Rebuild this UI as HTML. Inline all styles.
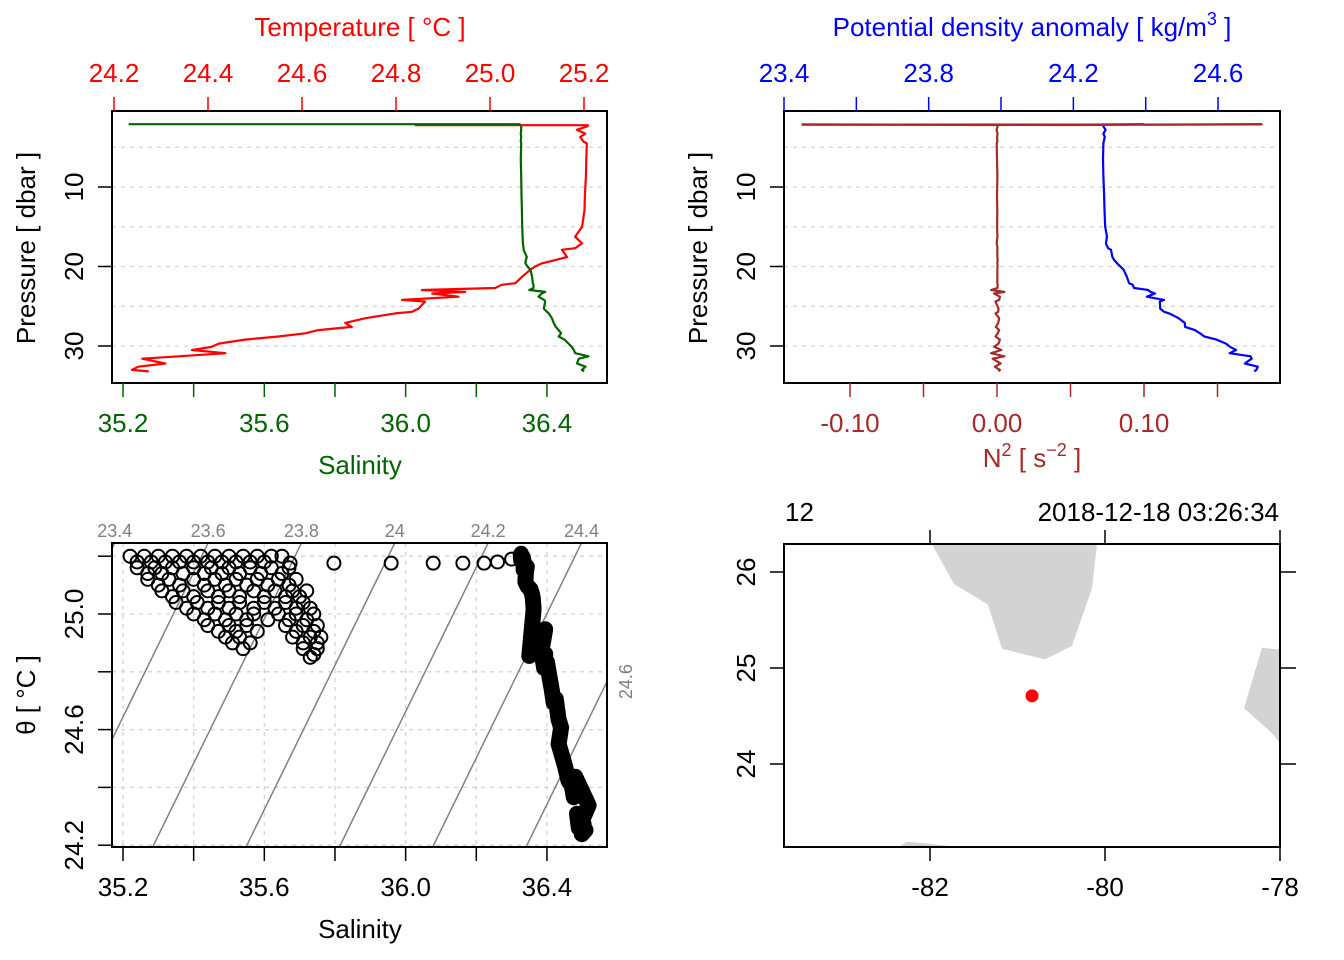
<!DOCTYPE html>
<html><head><meta charset="utf-8">
<style>
html,body{margin:0;padding:0;background:#fff;}
svg{display:block;font-family:"Liberation Sans",Arial,sans-serif;}
</style></head>
<body>
<svg id="chart" width="1344" height="960" viewBox="0 0 1344 960" xmlns="http://www.w3.org/2000/svg">
<defs>
<clipPath id="c1"><rect x="112" y="111" width="495" height="272"/></clipPath>
<clipPath id="c2"><rect x="784" y="111" width="496" height="272"/></clipPath>
<clipPath id="c3"><rect x="112" y="543" width="495" height="304"/></clipPath>
<clipPath id="c4"><rect x="784" y="544" width="496" height="303"/></clipPath>
</defs>
</svg>
<script>
// ---- profile data (levels) ----
const pressure = [2.3,2.8,3.3,3.7,4.3,4.5,6.5,8.7,11,12.9,15.0,16.25,17.1,17.7,17.9,18.8,19.2,19.6,20.0,20.4,21.3,22.1,22.3,22.7,22.96,23.2,23.4,23.8,24.2,24.4,25.3,25.7,25.9,26.5,27.1,27.6,28.0,28.4,28.8,29.2,29.7,30.1,30.5,30.9,31.3,31.6,32.2,32.6,33.0,33.2];
const temperature = [25.21,25.185,25.203,25.192,25.199,25.206,25.205,25.204,25.202,25.201,25.196,25.181,25.196,25.181,25.153,25.164,25.139,25.111,25.096,25.086,25.068,25.054,25.025,25.011,24.855,24.947,24.877,24.933,24.813,24.862,24.848,24.834,24.798,24.735,24.692,24.706,24.635,24.607,24.550,24.479,24.423,24.408,24.366,24.437,24.338,24.260,24.309,24.252,24.238,24.274];
const salinity = [36.327,36.327,36.326,36.327,36.326,36.327,36.326,36.327,36.328,36.329,36.330,36.331,36.332,36.334,36.334,36.343,36.340,36.339,36.345,36.353,36.358,36.360,36.362,36.362,36.350,36.395,36.385,36.376,36.392,36.395,36.391,36.400,36.405,36.414,36.419,36.425,36.433,36.440,36.433,36.450,36.461,36.470,36.476,36.480,36.518,36.490,36.485,36.509,36.499,36.505];
const sigmaTheta = [24.282,24.289,24.283,24.287,24.284,24.283,24.282,24.283,24.285,24.286,24.288,24.293,24.290,24.296,24.304,24.308,24.313,24.321,24.330,24.339,24.348,24.354,24.364,24.368,24.407,24.413,24.426,24.403,24.451,24.439,24.440,24.451,24.465,24.491,24.508,24.509,24.536,24.550,24.562,24.596,24.622,24.633,24.650,24.632,24.690,24.693,24.674,24.710,24.706,24.700];
const n2 = [0.0005,-0.0003,0.0004,0,0.0003,-0.0002,0,0.0003,0,0.0002,0.0001,0.0003,-0.0002,0.0004,0.0002,0.0003,0.0004,0.0002,0.0004,0.0002,0.0003,0.0002,0.0005,0.0003,-0.004,0.005,-0.002,0.002,0.0015,-0.001,0.001,0.0008,-0.001,0.0015,0.0008,-0.0008,0.0015,0.0005,-0.001,0.002,0.001,-0.002,0.003,-0.004,0.005,-0.003,0.0025,-0.0015,0.002,0.001];
// ---- surface soak (near-constant pressure) ----
const soakPressure = 2.15;
const soakSal = [35.22,35.26,35.30,35.34,35.38,35.42,35.46,35.50,35.54,35.58,35.62,35.65,35.24,35.29,35.34,35.40,35.45,35.50,35.56,35.62,35.67,35.27,35.33,35.40,35.46,35.52,35.58,35.64,35.69,35.31,35.37,35.44,35.50,35.57,35.63,35.68,35.72,35.35,35.41,35.47,35.53,35.60,35.66,35.71,35.40,35.46,35.52,35.57,35.64,35.69,35.74,35.44,35.50,35.55,35.66,35.71,35.75,35.49,35.53,35.68,35.73,35.76,35.54,35.71,35.75,35.73,35.673,35.797,35.959,36.078,36.162,36.222,36.26,36.30,
35.24,35.28,35.32,35.36,35.40,35.44,35.48,35.52,35.56,35.60,35.27,35.31,35.37,35.43,35.48,35.53,35.59,35.65,35.30,35.36,35.43,35.49,35.55,35.61,35.67,35.34,35.40,35.47,35.53,35.60,35.66,35.70,35.38,35.44,35.50,35.57,35.63,35.69,35.73,35.43,35.49,35.55,35.61,35.67,35.72,35.47,35.52,35.58,35.69,35.74,35.51,35.56,35.71,35.75,35.74];
const soakTemp = [25.20,25.20,25.20,25.20,25.20,25.20,25.20,25.20,25.20,25.20,25.20,25.20,25.16,25.16,25.16,25.16,25.16,25.16,25.16,25.16,25.16,25.12,25.12,25.12,25.12,25.12,25.12,25.12,25.12,25.08,25.08,25.08,25.08,25.08,25.08,25.08,25.08,25.04,25.04,25.04,25.04,25.04,25.04,25.04,25.00,25.00,25.00,25.00,25.00,25.00,25.00,24.96,24.96,24.96,24.96,24.96,24.96,24.92,24.92,24.92,24.92,24.92,24.88,24.88,24.88,24.85,25.176,25.176,25.176,25.176,25.176,25.176,25.18,25.19,
25.18,25.18,25.18,25.18,25.18,25.18,25.18,25.18,25.18,25.18,25.14,25.14,25.14,25.14,25.14,25.14,25.14,25.14,25.10,25.10,25.10,25.10,25.10,25.10,25.10,25.06,25.06,25.06,25.06,25.06,25.06,25.06,25.02,25.02,25.02,25.02,25.02,25.02,25.02,24.98,24.98,24.98,24.98,24.98,24.98,24.94,24.94,24.94,24.94,24.94,24.90,24.90,24.90,24.90,24.86];
const soakTempLine = [24.84,24.95,25.05,25.12,25.17,25.21];
const soakSalLine = [35.216,35.5,35.8,36.1,36.25,36.325];
const soakSigma = [23.45,23.70,23.95,24.10,24.20,24.28];
const soakN2 = [-0.133,0.05,0.18,-0.02,0.10,0.0];
// ---- axis ticks ----
const tempTicks = [24.2,24.4,24.6,24.8,25.0,25.2];
const salTicks = [35.2,35.4,35.6,35.8,36.0,36.2,36.4];
const salLabels = [35.2,35.6,36.0,36.4];
const presTicks = [10,20,30];
const presGrid = [5,10,15,20,25,30];
const sigTicks = [23.4,23.6,23.8,24.0,24.2,24.4,24.6];
const sigLabels = [23.4,23.8,24.2,24.6];
const n2Ticks = [-0.10,-0.05,0,0.05,0.10,0.15];
const n2Labels = [-0.10,0.00,0.10];
const thetaTicks = [24.2,24.4,24.6,24.8,25.0,25.2];
const thetaLabels = [24.2,24.6,25.0];
const isoLevels = [23.4,23.6,23.8,24.0,24.2,24.4,24.6];
// ---- map ----
const lonTicks = [-82,-80,-78];
const latTicks = [24,25,26];
const stationLon = -80.834, stationLat = 24.71;
const floridaLon = [-81.977,-81.726,-81.337,-81.177,-80.686,-80.377,-80.149,-80.091];
const floridaLat = [26.29,25.875,25.66,25.20,25.09,25.23,25.83,26.29];
const bahamasLon = [-78.206,-77.98,-77.98,-78.103,-78.411];
const bahamasLat = [25.21,25.19,24.20,24.33,24.58];
const cubaLon = [-82.377,-82.263,-82.011,-81.589];
const cubaLat = [23.125,23.19,23.17,23.125];

const NS='http://www.w3.org/2000/svg';
const svg=document.getElementById('chart');
function mk(tag, attrs, name, parent){
  const el=document.createElementNS(NS,tag);
  for(const k in attrs) el.setAttribute(k,attrs[k]);
  
  
  (parent||svg).appendChild(el);
  return el;
}
function txt(x,y,s,size,fill,name,anchor,rot){
  const a={x:x,y:y,'font-size':size,fill:fill,'text-anchor':anchor||'middle'};
  if(rot) a.transform='rotate(-90 '+x+' '+y+')';
  const t=mk('text',a,name);
  t.textContent=s;
  return t;
}
function ln(x1,y1,x2,y2,stroke,w,name,parent,dash){
  const a={x1:x1,y1:y1,x2:x2,y2:y2,stroke:stroke,'stroke-width':w};
  if(dash) a['stroke-dasharray']=dash;
  return mk('line',a,name,parent);
}
function poly(xs,ys,stroke,w,name,parent){
  let d='';
  for(let i=0;i<xs.length;i++) d+=(i?'L':'M')+xs[i].toFixed(1)+' '+ys[i].toFixed(1);
  return mk('path',{d:d,fill:'none',stroke:stroke,'stroke-width':w,'stroke-linejoin':'round'},name,parent);
}
const grey='#d3d3d3';
const RED='#ff0000', GREEN='#006400', BLUE='#0000ff', BROWN='#a52a2a', ISO='#808080';
const FS=26;

// scales
const py=p=>107.5+p*7.95;
const sx=S=>123+(S-35.2)*353.3;
const tx=T=>114+(T-24.2)*470;
const dx=s=>784+(s-23.4)*361.7;
const nx=n=>997+n*1470;
const ty=T=>614-(T-25.0)*289;
const lonx=l=>930+(l+82)*87.5;
const laty=l=>572-(l-26)*96;

// ===== Panel 1 =====
const g1=mk('g',{'clip-path':'url(#c1)'},'ts-profile-plot');
presGrid.forEach(p=>{ln(112,py(p),607,py(p),grey,1.3,'pressure-gridline',g1,'4,5');});
poly(soakTempLine.map(tx),soakTempLine.map(()=>py(soakPressure)+0.6),RED,2.2,'temperature-soak-line',g1);
poly(temperature.map(tx),pressure.map(py),RED,2.2,'temperature-profile',g1);
poly(soakSalLine.map(sx),soakSalLine.map(()=>py(soakPressure)-0.4),GREEN,2.2,'salinity-soak-line',g1);
poly(salinity.map(sx),pressure.map(py),GREEN,2.2,'salinity-profile',g1);
mk('rect',{x:112,y:111,width:495,height:272,fill:'none',stroke:'#000','stroke-width':2},'panel1-frame');
tempTicks.forEach(t=>{ln(tx(t),97,tx(t),111,RED,1.5,'temperature-tick');txt(tx(t),82,t.toFixed(1),FS,RED,'temperature-tick-label');});
salTicks.forEach(s=>{ln(sx(s),383,sx(s),397,GREEN,1.5,'salinity-tick');});
salLabels.forEach(s=>{txt(sx(s),432,s.toFixed(1),FS,GREEN,'salinity-tick-label');});
presTicks.forEach(p=>{ln(98,py(p),112,py(p),'#000',1.5,'pressure-tick');txt(83,py(p),String(p),FS,'#000','pressure-tick-label','middle',true);});
txt(360,36,'Temperature [ °C ]',FS,RED,'temperature-axis-title');
txt(360,474,'Salinity',FS,GREEN,'salinity-axis-title');
txt(35,248,'Pressure [ dbar ]',FS,'#000','pressure-axis-title','middle',true);

// ===== Panel 2 =====
const g2=mk('g',{'clip-path':'url(#c2)'},'density-n2-plot');
presGrid.forEach(p=>{ln(784,py(p),1280,py(p),grey,1.3,'pressure-gridline',g2,'4,5');});
poly(soakSigma.map(dx),soakSigma.map(()=>py(soakPressure)),BLUE,2.2,'density-soak-line',g2);
poly(sigmaTheta.map(dx),pressure.map(py),BLUE,2.2,'density-profile',g2);
poly(soakN2.map(nx),soakN2.map((v,i)=>py(soakPressure)+(i%2?0.4:-0.2)),BROWN,2.2,'n2-soak-line',g2);
poly(n2.map(nx),pressure.map(py),BROWN,2.2,'n2-profile',g2);
mk('rect',{x:784,y:111,width:496,height:272,fill:'none',stroke:'#000','stroke-width':2},'panel2-frame');
sigTicks.forEach(s=>{ln(dx(s),97,dx(s),111,BLUE,1.5,'density-tick');});
sigLabels.forEach(s=>{txt(dx(s),82,s.toFixed(1),FS,BLUE,'density-tick-label');});
n2Ticks.forEach(n=>{ln(nx(n),383,nx(n),397,BROWN,1.5,'n2-tick');});
n2Labels.forEach(n=>{txt(nx(n),432,n.toFixed(2),FS,BROWN,'n2-tick-label');});
presTicks.forEach(p=>{ln(770,py(p),784,py(p),'#000',1.5,'pressure-tick');txt(755,py(p),String(p),FS,'#000','pressure-tick-label','middle',true);});
(function(){
  const t=txt(1032,36,'',FS,BLUE,'density-axis-title');
  t.innerHTML='Potential density anomaly [ kg/m<tspan dy="-11" font-size="18">3</tspan><tspan dy="11"> ]</tspan>';
  const t2=txt(1032,467,'',FS,BROWN,'n2-axis-title');
  t2.innerHTML='N<tspan dy="-11" font-size="18">2</tspan><tspan dy="11"> [ s</tspan><tspan dy="-11" font-size="18">−2</tspan><tspan dy="11"> ]</tspan>';
})();
txt(707,248,'Pressure [ dbar ]',FS,'#000','pressure-axis-title','middle',true);

// ===== Panel 3: TS diagram =====
const g3=mk('g',{'clip-path':'url(#c3)'},'ts-diagram');
salTicks.forEach(s=>{ln(sx(s),543,sx(s),847,grey,1.3,'ts-vertical-gridline',g3,'4,5');});
thetaTicks.forEach(t=>{ln(112,ty(t),607,ty(t),grey,1.3,'ts-horizontal-gridline',g3,'4,5');});
const sigS=(sig,T)=>(sig-4.4207+0.303*T)/0.757;
isoLevels.forEach(sig=>{
  ln(sx(sigS(sig,24.0)),ty(24.0),sx(sigS(sig,25.4)),ty(25.4),ISO,1.5,'isopycnal-line',g3);
  const Ttop=25.0+(614-543)/289;
  const xt=sx(sigS(sig,Ttop));
  if(xt<=607){ txt(xt,537,String(+sig.toFixed(1)),18,ISO,'isopycnal-label'); }
  else { const Sr=35.2+(607-123)/353.3; const Tr=(0.757*Sr-sig+4.4207)/0.303; txt(632,ty(Tr),String(+sig.toFixed(1)),18,ISO,'isopycnal-label','middle',true); }
});
soakSal.forEach((s,i)=>{mk('circle',{cx:sx(s),cy:ty(soakTemp[i]),r:6.5,fill:'none',stroke:'#000','stroke-width':2},'ts-soak-point',g3);});
salinity.forEach((s,i)=>{mk('circle',{cx:sx(s),cy:ty(temperature[i]),r:6.5,fill:'none',stroke:'#000','stroke-width':2},'ts-profile-point',g3);});
poly(salinity.map(sx),temperature.map(ty),'#000',16,'ts-profile-band',g3);
mk('rect',{x:112,y:543,width:495,height:304,fill:'none',stroke:'#000','stroke-width':2},'panel3-frame');
salTicks.forEach(s=>{ln(sx(s),847,sx(s),861,'#000',1.5,'ts-salinity-tick');});
salLabels.forEach(s=>{txt(sx(s),896,s.toFixed(1),FS,'#000','ts-salinity-tick-label');});
thetaTicks.forEach(t=>{ln(98,ty(t),112,ty(t),'#000',1.5,'theta-tick');});
thetaLabels.forEach(t=>{txt(83,ty(t),t.toFixed(1),FS,'#000','theta-tick-label','middle',true);});
txt(360,938,'Salinity',FS,'#000','ts-salinity-axis-title');
txt(35,695,'θ [ °C ]',FS,'#000','theta-axis-title','middle',true);

// ===== Panel 4: map =====
const g4=mk('g',{'clip-path':'url(#c4)'},'station-map');
function land(lons,lats,name){let d='';lons.forEach((l,i)=>{d+=(i?'L':'M')+lonx(l).toFixed(1)+' '+laty(lats[i]).toFixed(1);});mk('path',{d:d+'Z',fill:'#d3d3d3',stroke:'none'},name,g4);}
land(floridaLon,floridaLat,'florida-landmass');
land(bahamasLon,bahamasLat,'bahamas-landmass');
land(cubaLon,cubaLat,'cuba-landmass');
mk('circle',{cx:lonx(stationLon),cy:laty(stationLat),r:6.5,fill:'#ff0000'},'station-marker',g4);
mk('rect',{x:784,y:544,width:496,height:303,fill:'none',stroke:'#000','stroke-width':2},'panel4-frame');
lonTicks.forEach(l=>{ln(lonx(l),530,lonx(l),544,'#000',1.5,'lon-tick-top');ln(lonx(l),847,lonx(l),861,'#000',1.5,'lon-tick');txt(lonx(l),896,String(l),FS,'#000','lon-tick-label');});
latTicks.forEach(l=>{ln(770,laty(l),784,laty(l),'#000',1.5,'lat-tick');ln(1280,laty(l),1296,laty(l),'#000',1.5,'lat-tick-right');txt(755,laty(l),String(l),FS,'#000','lat-tick-label','middle',true);});
txt(785,521,'12',FS,'#000','station-id-label','start');
txt(1279,521,'2018-12-18 03:26:34',FS,'#000','station-time-label','end');
</script>
</body></html>
